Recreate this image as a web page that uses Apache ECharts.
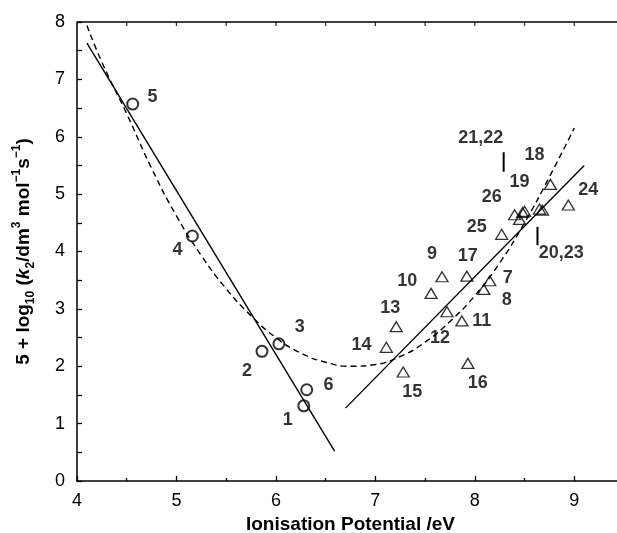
<!DOCTYPE html>
<html>
<head>
<meta charset="utf-8">
<script src="https://cdn.jsdelivr.net/npm/echarts@6/dist/echarts.min.js"></script>
<style>
html,body{margin:0;padding:0;background:#fff;}
#chart{width:617px;height:533px;}
</style>
</head>
<body>
<div id="chart"></div>
<script>
// ---- data ----
const circleIds = ['1','2','3','4','5','6'];
const circleX = [6.28, 5.86, 6.03, 5.16, 4.56, 6.31];
const circleY = [1.31, 2.26, 2.39, 4.27, 6.57, 1.59];

const triIds = ['7','8','9','10','11','12','13','14','15','16','17','18','19','20','21','22','23','24','25','26'];
const triX = [8.15, 8.09, 7.67, 7.56, 7.87, 7.72, 7.21, 7.11, 7.28, 7.93, 7.92, 8.76, 8.45, 8.65, 8.48, 8.50, 8.68, 8.94, 8.27, 8.40];
const triY = [3.49, 3.34, 3.56, 3.27, 2.79, 2.95, 2.69, 2.33, 1.90, 2.05, 3.57, 5.17, 4.56, 4.74, 4.68, 4.70, 4.72, 4.81, 4.30, 4.64];

const labelText = ['5','4','3','2','6','1','9','17','10','7','8','12','11','13','14','15','16','25','26','19','18','24','20,23','21,22'];
const labelX = [4.76, 5.01, 6.24, 5.71, 6.53, 6.12, 7.57, 7.93, 7.32, 8.33, 8.32, 7.65, 8.07, 7.15, 6.86, 7.37, 8.03, 8.02, 8.17, 8.45, 8.60, 9.14, 8.87, 8.06];
const labelY = [6.69, 4.02, 2.68, 1.92, 1.67, 1.06, 3.95, 3.92, 3.48, 3.54, 3.15, 2.49, 2.79, 3.01, 2.37, 1.55, 1.71, 4.43, 4.95, 5.21, 5.68, 5.07, 3.97, 5.98];

const fitLeftX = [4.10, 6.59];
const fitLeftY = [7.63, 0.52];
const fitRightX = [6.70, 9.10];
const fitRightY = [1.27, 5.50];

const curveX = [4.10, 4.25, 4.50, 4.75, 5.00, 5.25, 5.50, 5.75, 6.00, 6.25, 6.50, 6.75, 7.00, 7.25, 7.50, 7.75, 8.00, 8.25, 8.50, 8.75, 9.00];
const curveY = [7.94, 7.30, 6.40, 5.45, 4.62, 3.93, 3.35, 2.88, 2.50, 2.23, 2.07, 2.00, 2.03, 2.17, 2.42, 2.78, 3.23, 3.80, 4.50, 5.30, 6.15];

const leaderA_X = [8.29, 8.29];   // 21,22
const leaderA_Y = [5.73, 5.39];
const leaderB_X = [8.63, 8.63];   // 20,23
const leaderB_Y = [4.43, 4.11];

const xTickLabels = ['4','5','6','7','8','9'];
const yTickLabels = ['0','1','2','3','4','5','6','7','8'];
const topFrameX = [4, 9.5];
const topFrameY = [8, 8];
const topTickX = [4.5, 5, 5.5, 6, 6.5, 7, 7.5, 8, 8.5, 9];

// ---- build ----
const zip = (xs, ys) => xs.map((x, i) => [x, ys[i]]);
const FONT = '"Liberation Sans", Arial, Helvetica, sans-serif';
const X_MIN = 4, X_MAX = 9.5, Y_MAX = 8;

const chart = echarts.init(document.getElementById('chart'), null, {renderer: 'canvas'});

const option = {
  backgroundColor: '#ffffff',
  animation: false,
  grid: {left: 77, right: -7, top: 22, bottom: 52, containLabel: false, outerBoundsMode: 'none'},
  xAxis: [{
    type: 'value', min: X_MIN, max: X_MAX, interval: 1, position: 'bottom',
    name: 'Ionisation Potential /eV', nameLocation: 'middle', nameGap: 30,
    nameTextStyle: {fontFamily: FONT, fontSize: 19, fontWeight: 'bold', color: '#000'},
    axisLine: {show: true, onZero: false, lineStyle: {color: '#000', width: 1.5}},
    axisTick: {show: true, inside: true, length: 5, lineStyle: {color: '#000', width: 1.3}},
    minorTick: {show: true, splitNumber: 2, length: 3, lineStyle: {color: '#000', width: 1.3}},
    axisLabel: {fontFamily: FONT, fontSize: 18, color: '#000', margin: 11, showMaxLabel: false,
      formatter: v => (xTickLabels.indexOf(String(v)) >= 0 ? String(v) : '')},
    splitLine: {show: false}
  }],
  yAxis: [{
    type: 'value', min: 0, max: Y_MAX, interval: 1,
    name: '{a|5 + log}{sub|10}{a| (}{i|k}{sub|2}{a|/dm}{sup|3}{a| mol}{sup|−1}{a|s}{sup|−1}{a|)}',
    nameLocation: 'middle', nameGap: 40,
    nameTextStyle: {
      color: '#000',
      rich: {
        a: {fontFamily: FONT, fontSize: 19, fontWeight: 'bold', color: '#000', lineHeight: 26},
        i: {fontFamily: FONT, fontSize: 19, fontWeight: 'bold', fontStyle: 'italic', color: '#000', lineHeight: 26},
        sub: {fontFamily: FONT, fontSize: 12, fontWeight: 'bold', color: '#000', verticalAlign: 'bottom', lineHeight: 12},
        sup: {fontFamily: FONT, fontSize: 12, fontWeight: 'bold', color: '#000', verticalAlign: 'top', lineHeight: 12}
      }
    },
    axisLine: {show: true, onZero: false, lineStyle: {color: '#000', width: 1.5}},
    axisTick: {show: true, inside: true, length: 5, lineStyle: {color: '#000', width: 1.3}},
    minorTick: {show: true, splitNumber: 2, length: 5, lineStyle: {color: '#000', width: 1.3}},
    axisLabel: {fontFamily: FONT, fontSize: 18, color: '#000', margin: 12,
      formatter: v => (yTickLabels.indexOf(String(v)) >= 0 ? String(v) : '')},
    splitLine: {show: false}
  }],
  series: [
    {
      type: 'line', name: 'topFrame', data: zip(topFrameX, topFrameY), showSymbol: false, symbol: 'none',
      clip: false, lineStyle: {color: '#000', width: 1.5}, z: 5, silent: true
    },
    {
      type: 'scatter', name: 'topTicks', data: topTickX.map(x => [x, Y_MAX]),
      symbol: 'rect', symbolSize: [1.3, 4], symbolOffset: [0, 2], clip: false,
      itemStyle: {color: '#000'}, z: 5, silent: true
    },
    {
      type: 'line', name: 'curve', data: zip(curveX, curveY), smooth: true, showSymbol: false, symbol: 'none',
      lineStyle: {color: '#000', width: 1.4, type: [6, 4]}, z: 2, silent: true
    },
    {
      type: 'line', name: 'fitLeft', data: zip(fitLeftX, fitLeftY), showSymbol: false, symbol: 'none',
      lineStyle: {color: '#000', width: 1.4}, z: 2, silent: true
    },
    {
      type: 'line', name: 'fitRight', data: zip(fitRightX, fitRightY), showSymbol: false, symbol: 'none',
      lineStyle: {color: '#000', width: 1.4}, z: 2, silent: true
    },
    {
      type: 'line', name: 'leaderA', data: zip(leaderA_X, leaderA_Y), showSymbol: false, symbol: 'none',
      lineStyle: {color: '#000', width: 2}, z: 2, silent: true
    },
    {
      type: 'line', name: 'leaderB', data: zip(leaderB_X, leaderB_Y), showSymbol: false, symbol: 'none',
      lineStyle: {color: '#000', width: 2}, z: 2, silent: true
    },
    {
      type: 'scatter', name: 'circles', data: circleX.map((x, i) => ({name: circleIds[i], value: [x, circleY[i]]})),
      symbol: 'circle', symbolSize: 11,
      itemStyle: {color: 'rgba(255,255,255,0)', borderColor: '#000', borderWidth: 2}, z: 3
    },
    {
      type: 'scatter', name: 'triangles', data: triX.map((x, i) => ({name: triIds[i], value: [x, triY[i]]})),
      symbol: 'triangle', symbolSize: [12, 10],
      itemStyle: {color: 'rgba(255,255,255,0)', borderColor: '#000', borderWidth: 1.3}, z: 3
    },
    {
      type: 'scatter', name: 'labels', data: labelX.map((x, i) => ({name: labelText[i], value: [x, labelY[i]]})),
      symbolSize: 0, silent: true, z: 4,
      label: {show: true, position: 'inside', formatter: p => p.name,
        fontFamily: FONT, fontSize: 18, fontWeight: 'bold', color: '#000', align: 'center', verticalAlign: 'middle'}
    }
  ]
};
chart.setOption(option);
</script>
</body>
</html>
